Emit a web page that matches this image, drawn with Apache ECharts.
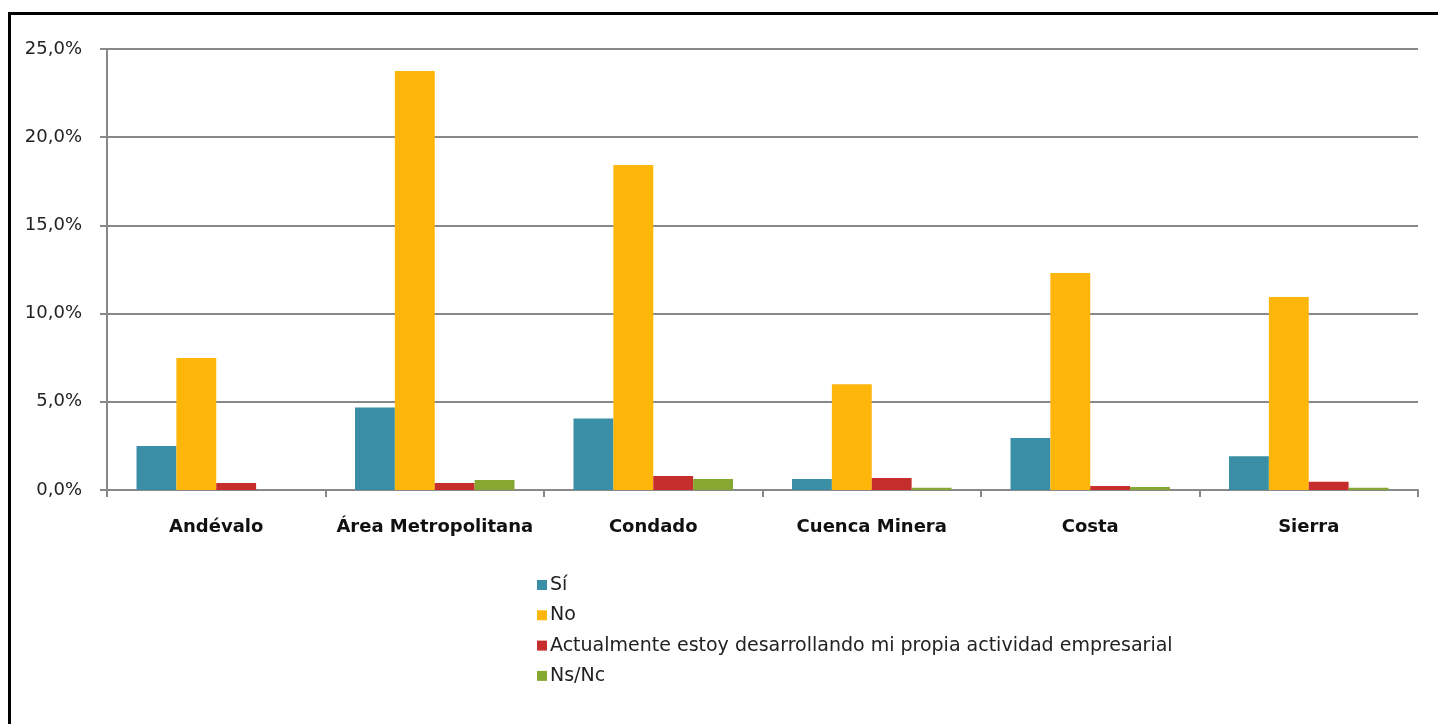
<!DOCTYPE html>
<html>
<head>
<meta charset="utf-8">
<script src="https://cdn.jsdelivr.net/npm/echarts@6/dist/echarts.min.js"></script>
<style>
html,body{margin:0;padding:0;background:#fff;overflow:hidden;}
#chart{width:1438px;height:724px;}
</style>
</head>
<body>
<div id="chart"></div>
<script>
const categories = ['Andévalo', 'Área Metropolitana', 'Condado', 'Cuenca Minera', 'Costa', 'Sierra'];
const seriesNames = ['Sí', 'No', 'Actualmente estoy desarrollando mi propia actividad empresarial', 'Ns/Nc'];
const siValues = [2.5, 4.67, 4.06, 0.62, 2.95, 1.91];
const noValues = [7.48, 23.75, 18.42, 6.0, 12.3, 10.94];
const actualValues = [0.40, 0.40, 0.79, 0.68, 0.23, 0.47];
const nsncValues = [0, 0.57, 0.62, 0.13, 0.17, 0.13];
const yTicks = [0, 5, 10, 15, 20, 25];
const colors = ['#3A8FA6', '#FFB60A', '#C62D2D', '#86A833'];

const font = '"DejaVu Sans", "Open Sans", sans-serif';
const chart = echarts.init(document.getElementById('chart'));
const dataSets = [siValues, noValues, actualValues, nsncValues];
chart.setOption({
  animation: false,
  color: colors,
  graphic: [{
    type: 'polyline',
    shape: {points: [[9.5, 730], [9.5, 13.5], [1438, 13.5]]},
    style: {fill: 'none', stroke: '#000', lineWidth: 3},
    silent: true
  }],
  grid: {left: 107, right: 20, top: 49, bottom: 234, containLabel: false},
  legend: {
    orient: 'vertical',
    left: 532,
    top: 569,
    itemWidth: 10,
    itemHeight: 10,
    itemGap: 8.3,
    icon: 'rect',
    textStyle: {fontFamily: font, fontSize: 19, color: '#222', lineHeight: 22, padding: [0, 0, 0, -2]},
    data: seriesNames
  },
  xAxis: {
    type: 'category',
    data: categories,
    axisLine: {lineStyle: {color: '#888', width: 2}},
    axisTick: {show: true, length: 7, interval: 0, lineStyle: {color: '#888', width: 2}, alignWithLabel: false},
    axisLabel: {interval: 0, fontFamily: font, fontSize: 18, fontWeight: 'bold', color: '#111', margin: 28}
  },
  yAxis: {
    type: 'value',
    min: 0,
    max: 25,
    interval: 5,
    axisLine: {show: true, lineStyle: {color: '#888', width: 2}},
    axisTick: {show: true, length: 7, lineStyle: {color: '#888', width: 2}},
    splitLine: {lineStyle: {color: '#888', width: 2}},
    axisLabel: {
      fontFamily: font, fontSize: 18, color: '#222', margin: 25, padding: [3, 0, 0, 0],
      formatter: v => yTicks.includes(v) ? v.toFixed(1).replace('.', ',') + '%' : ''
    }
  },
  series: seriesNames.map((name, i) => ({
    name: name,
    type: 'bar',
    data: dataSets[i],
    barGap: '0%',
    barCategoryGap: '27%',
    itemStyle: {color: colors[i]}
  }))
});
</script>
</body>
</html>
